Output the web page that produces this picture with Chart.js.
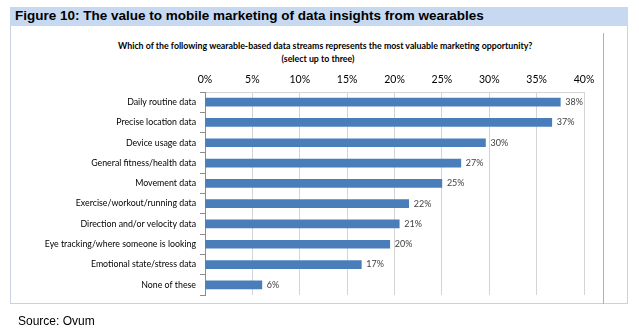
<!DOCTYPE html>
<html lang="en">
<head>
  <meta charset="UTF-8" />
  <title>Figure 10</title>
  <script src="https://cdn.jsdelivr.net/npm/chart.js"></script>
  <style>
    body {
      margin: 0;
      background: #ffffff;
      width: 639px;
      height: 332px;
      position: relative;
      overflow: hidden;
      font-family: 'Liberation Sans', Arial, sans-serif;
    }
    .banner {
      position: absolute;
      left: 10px;
      top: 7px;
      width: 618px;
      height: 19px;
      background: #c6d9f1;
    }
    .banner span {
      position: absolute;
      left: 5px;
      top: 1px;
      font-weight: bold;
      font-size: 13.5px;
      color: #000;
      white-space: nowrap;
    }
    .box {
      position: absolute;
      left: 10px;
      top: 26px;
      width: 616px;
      height: 277px;
      border: 1px solid #c9d3e0;
      border-top: none;
    }
    .frame {
      position: absolute;
      left: 603px;
      top: 33px;
      width: 0;
      height: 271px;
      border-left: 1px solid #b0b0b0;
    }
    .question {
      position: absolute;
      left: 118px;
      width: 400px;
      text-align: center;
      font-family: Lato, 'Open Sans', sans-serif;
      font-weight: bold;
      font-size: 8.8px;
      color: #000;
      white-space: nowrap;
    }
    .source {
      position: absolute;
      left: 18px;
      top: 314px;
      font-size: 12px;
      color: #000;
    }
    #chart {
      position: absolute;
      left: 0;
      top: 0;
    }
  </style>
</head>
<body>
  <div class="banner"><span>Figure 10: The value to mobile marketing of data insights from wearables</span></div>
  <div class="box"></div>
  <div class="frame"></div>
  <div class="question" style="top:40px">Which of the following wearable-based data streams represents the most valuable marketing opportunity?</div>
  <div class="question" style="top:53px">(select up to three)</div>
  <canvas id="chart" width="639" height="332"></canvas>
  <div class="source">Source: Ovum</div>

  <script>
    const categories = [
      'Daily routine data',
      'Precise location data',
      'Device usage data',
      'General fitness/health data',
      'Movement data',
      'Exercise/workout/running data',
      'Direction and/or velocity data',
      'Eye tracking/where someone is looking',
      'Emotional state/stress data',
      'None of these'
    ];
    const shares = [37.5, 36.6, 29.6, 27.0, 25.0, 21.5, 20.5, 19.5, 16.5, 6.0];
    const xTicks = [0, 5, 10, 15, 20, 25, 30, 35, 40];

    const labelFont = "Lato, 'Open Sans', sans-serif";

    const barLabels = {
      id: 'barLabels',
      afterDatasetsDraw(chart) {
        const c = chart.ctx;
        const meta = chart.getDatasetMeta(0);
        c.save();
        c.font = '9px ' + labelFont;
        c.fillStyle = '#404040';
        c.textAlign = 'left';
        c.textBaseline = 'middle';
        meta.data.forEach((bar, i) => {
          c.fillText(Math.round(shares[i]) + '%', bar.x + 5, bar.y);
        });
        c.restore();
      }
    };

    new Chart(document.getElementById('chart'), {
      type: 'bar',
      data: {
        labels: categories,
        datasets: [{
          data: shares,
          backgroundColor: '#4a7ebb',
          borderWidth: 0,
          barThickness: 8
        }]
      },
      options: {
        indexAxis: 'y',
        responsive: false,
        animation: false,
        layout: { padding: { left: 0, right: 55, top: 72, bottom: 37 } },
        plugins: {
          legend: { display: false },
          tooltip: { enabled: false }
        },
        scales: {
          x: {
            position: 'top',
            min: 0,
            max: 40,
            afterBuildTicks(axis) { axis.ticks = xTicks.map(v => ({ value: v })); },
            afterFit(axis) { axis.height = 20; },
            ticks: {
              callback: v => v + '%',
              color: '#000',
              font: { family: labelFont, size: 10.5 },
              padding: 6
            },
            grid: { color: '#d4d4d4', drawTicks: false },
            border: { display: true, color: '#d4d4d4' }
          },
          y: {
            afterFit(axis) { axis.width = 205; },
            ticks: {
              color: '#000',
              font: { family: labelFont, size: 8.8 },
              padding: 4
            },
            grid: { drawOnChartArea: false, color: '#8c8c8c', tickLength: 5, offset: true },
            border: { color: '#8c8c8c' }
          }
        }
      },
      plugins: [barLabels]
    });
  </script>
</body>
</html>
